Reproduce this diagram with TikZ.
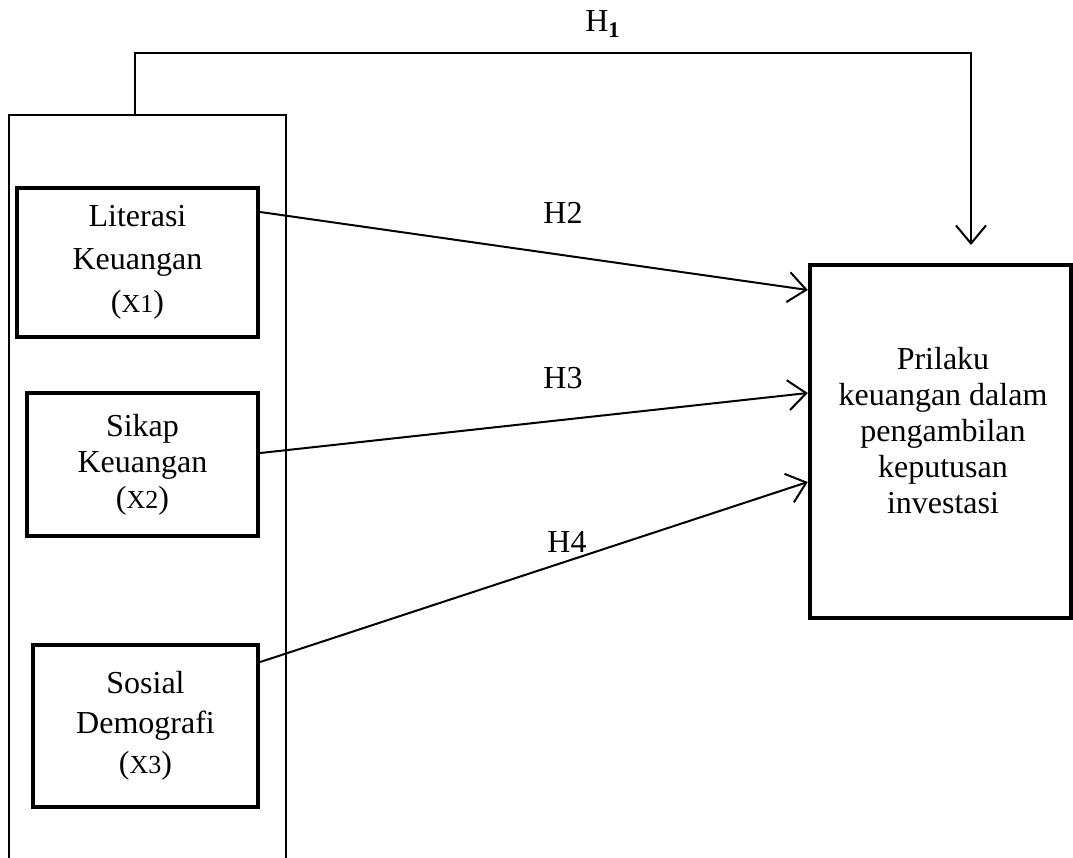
\documentclass[tikz,border=0pt]{standalone}
\usepackage{fontspec}
\setmainfont{Liberation Serif}
\usetikzlibrary{arrows.meta}
\tikzset{
  varbox/.style={draw, line width=2.2pt, align=center, inner sep=0pt,
    font=\fontsize{16pt}{21.5pt}\selectfont},
  grpbox/.style={draw, line width=1pt, inner sep=0pt},
  hyp/.style={font=\fontsize{16pt}{18pt}\selectfont, inner sep=1pt},
  link/.style={line width=1pt, -{Straight Barb[length=9pt,width=15pt,line width=1pt]}}
}
\newcommand{\idx}[1]{({\fontsize{13pt}{13pt}\selectfont X#1})}
\begin{document}
\begin{tikzpicture}[x=0.5pt,y=-0.5pt]
    \useasboundingbox (0,0) rectangle (1073,858);
    \node[grpbox, minimum width=138.5pt, minimum height=442.5pt] (grp) at (147.5,557.5) {};
    \node[varbox, minimum width=120.5pt, minimum height=74.5pt] (x1) at (137.5,262.5) {Literasi\\Keuangan\\\idx{1}};
    \node[varbox, minimum width=115.5pt, minimum height=71.5pt, font=\fontsize{16pt}{18pt}\selectfont] (x2) at (142.5,464.5) {Sikap\\Keuangan\\\idx{2}};
    \node[varbox, minimum width=112.5pt, minimum height=81pt, font=\fontsize{16pt}{20pt}\selectfont] (x3) at (145.5,726) {Sosial\\Demografi\\\idx{3}};
    \node[varbox, minimum width=130.5pt, minimum height=176.5pt] (y) at (940.5,441.5) {};
    \node[align=center, font=\fontsize{16pt}{18pt}\selectfont] (ytext) at (943,431) {Prilaku\\keuangan dalam\\pengambilan\\keputusan\\investasi};
    \coordinate (h1tip) at (971,245);
    \draw[link] ([xshift=-6.25pt]grp.north) |- (h1tip |- 0,53) -- (h1tip);
    \node[hyp] (h1) at (603,24) {H\textsubscript{\textbf{1}}};
    \draw[link] ([yshift=25.25pt]x1.east) -- ([yshift=75.75pt]y.west);
    \draw[link] ([yshift=5.75pt]x2.east) -- ([yshift=24.25pt]y.west);
    \draw[link] ([yshift=32pt]x3.east) -- ([yshift=-20.25pt]y.west);
    \node[hyp] (h2) at (563,213) {H2};
    \node[hyp] (h3) at (563,378) {H3};
    \node[hyp] (h4) at (567,542) {H4};
\end{tikzpicture}
\end{document}
